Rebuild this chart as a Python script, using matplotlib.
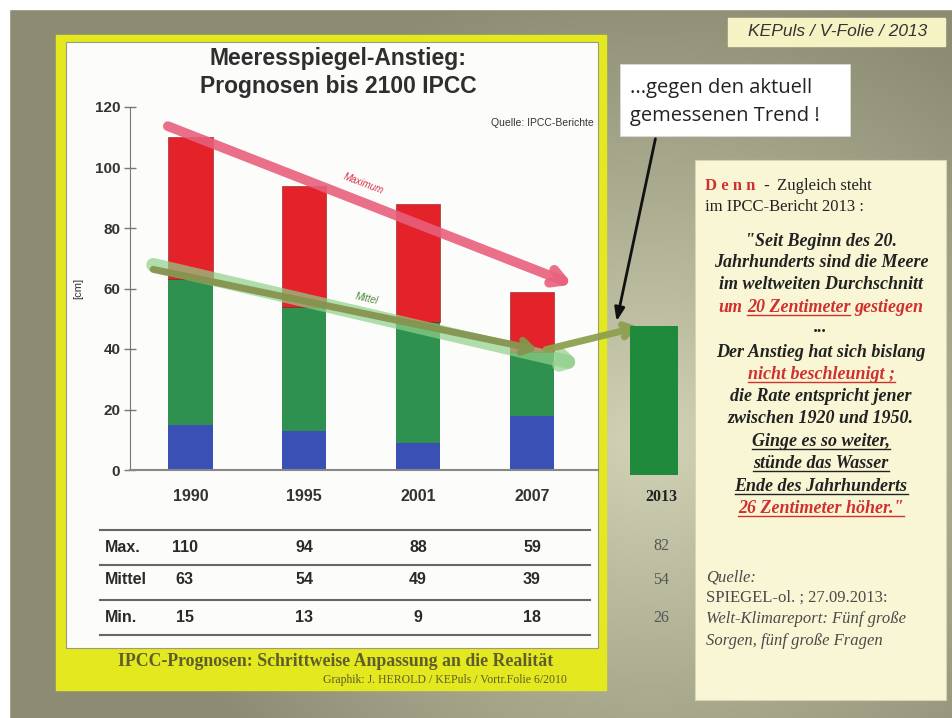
import numpy as np
import matplotlib
matplotlib.use("Agg")
import matplotlib.pyplot as plt
from matplotlib.patches import Rectangle
from matplotlib.transforms import blended_transform_factory

# data
years = ["1990", "1995", "2001", "2007"]
max_cm = [110, 94, 88, 59]
mittel_cm = [63, 54, 49, 39]
min_cm = [15, 13, 9, 18]
rows = ["Max.", "Mittel", "Min."]
y2013 = "2013"
vals2013 = [82, 54, 26]   # max, mittel, min

SANS = "Liberation Sans"
SERIF = "Liberation Serif"

fig = plt.figure(figsize=(9.52, 7.18), dpi=100)

# background canvas in pixel coords
bg = fig.add_axes([0, 0, 1, 1])
bg.set_xlim(0, 952)
bg.set_ylim(718, 0)
bg.axis("off")
yy, xx = np.mgrid[0:718, 0:952]
d = np.sqrt(((xx - 650) / 1.0) ** 2 + ((yy - 440) / 0.9) ** 2)
t = np.clip(d / 520, 0, 1) ** 0.9
light = np.array([0.83, 0.83, 0.72])
dark = np.array([0.55, 0.55, 0.45])
img = light * (1 - t[..., None]) + dark * t[..., None]
bg.imshow(img, extent=[0, 952, 718, 0], aspect="auto", zorder=0)
bg.add_patch(Rectangle((0, 0), 952, 9, color="white", zorder=1))
bg.add_patch(Rectangle((0, 0), 9, 718, color="white", zorder=1))
# yellow frame + white panel
bg.add_patch(Rectangle((56, 35), 550, 655, color="#e4e81f", zorder=2))
bg.add_patch(Rectangle((66, 42), 532, 606, facecolor="#fcfcfa",
                       edgecolor="#9a9a80", lw=0.8, zorder=3))

# main chart
ax = fig.add_axes([130 / 952, 1 - 470 / 718, 468 / 952, 363 / 718])
ax.patch.set_alpha(0)
x = np.arange(len(years))
w = 0.39
ax.bar(x, min_cm, w, color="#3b50b4", zorder=2)
ax.bar(x, np.subtract(mittel_cm, min_cm), w, bottom=min_cm, color="#2f9150", zorder=2)
ax.bar(x, np.subtract(max_cm, mittel_cm), w, bottom=mittel_cm, color="#e4222a",
       edgecolor="#8a1a1a", lw=0.4, zorder=2)
ax.set_xlim(-0.53, 3.58)
ax.set_ylim(0, 120)
ax.set_yticks(range(0, 121, 20))
ax.set_xticks(x)
ax.set_xticklabels(years, fontsize=11.5, fontweight="bold", family=SANS, color="#333333")
ax.tick_params(axis="x", length=0, pad=14)
ax.tick_params(axis="y", direction="inout", length=8, width=1, color="#777777",
               labelsize=11, pad=3, labelcolor="#333333")
for lbl in ax.get_yticklabels():
    lbl.set_family(SANS)
    lbl.set_fontweight("bold")
for s in ["top", "right"]:
    ax.spines[s].set_visible(False)
ax.spines["left"].set_color("#777777")
ax.spines["bottom"].set_color("#888888")
ax.spines["bottom"].set_linewidth(1.5)
ax.set_ylabel("[cm]", fontsize=8, family=SANS, labelpad=8, color="#333333")

# trend arrows
ax.annotate("", xy=(3.38, 61), xytext=(-0.22, 114),
            arrowprops=dict(arrowstyle="->,head_length=0.9,head_width=0.5", lw=7,
                            color="#e8607c", alpha=0.9), zorder=4)
ax.text(1.52, 94.5, "Maximum", rotation=-21, rotation_mode="anchor", ha="center",
        va="center", fontsize=7, style="italic", color="#d83048", family=SANS, zorder=5)
ax.annotate("", xy=(3.46, 34.5), xytext=(-0.35, 68),
            arrowprops=dict(arrowstyle="->,head_length=0.6,head_width=0.35", lw=10,
                            color="#8fd08a", alpha=0.7), zorder=4)
ax.text(1.55, 56.5, "Mittel", rotation=-13, rotation_mode="anchor", ha="center",
        va="center", fontsize=7, style="italic", color="#4f8a3a", family=SANS, zorder=5)
ax.annotate("", xy=(3.07, 39.6), xytext=(-0.35, 66.5),
            arrowprops=dict(arrowstyle="->,head_length=0.7,head_width=0.45", lw=5,
                            color="#86944e", alpha=0.95), zorder=5)
ax.annotate("", xy=(3.96, 47.5), xytext=(3.1, 39.6), annotation_clip=False,
            arrowprops=dict(arrowstyle="->,head_length=0.7,head_width=0.45", lw=5,
                            color="#8fa050", alpha=0.95, clip_on=False), zorder=5)
ax.text(0.99, 0.955, "Quelle: IPCC-Berichte", transform=ax.transAxes, ha="right",
        va="center", fontsize=7.5, family=SANS, color="#333333")

# 2013 bar
ax2 = fig.add_axes([630 / 952, 1 - 475 / 718, 48 / 952, 166 / 718])
ax2.patch.set_alpha(0)
ax2.bar([0], [vals2013[1]], 1.0, color="#1f8a3c")
ax2.set_xlim(-0.5, 0.5)
ax2.set_ylim(0, 60)
ax2.axis("off")

# overlay canvas in pixel coords
ov = fig.add_axes([0, 0, 1, 1], zorder=10)
ov.set_xlim(0, 952)
ov.set_ylim(718, 0)
ov.axis("off")
ov.patch.set_alpha(0)

ov.text(338, 58, "Meeresspiegel-Anstieg:", ha="center", va="center", fontsize=16.5,
        fontweight="bold", family=SANS, color="#2e2e2e")
ov.text(338, 86, "Prognosen bis 2100 IPCC", ha="center", va="center", fontsize=16.5,
        fontweight="bold", family=SANS, color="#2e2e2e")

# table
mix = blended_transform_factory(ax.transData, ov.transData)
for yl in [530, 565, 600, 635]:
    ov.plot([100, 590], [yl, yl], color="#666666", lw=1.5)
row_y = [547, 580, 617]
for ry, name, vals in zip(row_y, rows, [max_cm, mittel_cm, min_cm]):
    ov.text(105, ry, name, ha="left", va="center", fontsize=11.5, fontweight="bold",
            family=SANS, color="#2a2a2a")
    for i, v in enumerate(vals):
        xi = i - 0.05 if i == 0 else i
        ov.text(xi, ry, str(v), transform=mix, ha="center", va="center", fontsize=11.5,
                fontweight="bold", family=SANS, color="#2a2a2a")
ov.text(661, 497, y2013, ha="center", va="center", fontsize=11.5, fontweight="bold",
        family=SERIF, color="#222222")
for ry, v in zip([546, 580, 618], vals2013):
    ov.text(661, ry, str(v), ha="center", va="center", fontsize=11.5, family=SERIF,
            color="#555555")

ov.text(336, 661, "IPCC-Prognosen: Schrittweise Anpassung an die Realität", ha="center",
        va="center", fontsize=12.8, fontweight="bold", family=SERIF, color="#5e5e2c")
ov.text(445, 680, "Graphik: J. HEROLD / KEPuls / Vortr.Folie 6/2010", ha="center",
        va="center", fontsize=8.5, family=SERIF, color="#5e5e2c")

# KEPuls box
ov.add_patch(Rectangle((728, 18), 217, 28, color="#f5f3c4"))
ov.text(838, 32, "KEPuls / V-Folie / 2013", ha="center", va="center", fontsize=12.5,
        style="italic", family=SANS, color="#333333")

# speech box + arrow
ov.add_patch(Rectangle((620, 64), 230, 72, facecolor="white", edgecolor="#dddddd", lw=0.5))
ov.text(630, 88, "...gegen den aktuell", ha="left", va="center", fontsize=14.5,
        family="Open Sans", color="#222222")
ov.text(630, 116, "gemessenen Trend !", ha="left", va="center", fontsize=14.5,
        family="Open Sans", color="#222222")
ov.annotate("", xy=(616, 324), xytext=(656, 136),
            arrowprops=dict(arrowstyle="-|>,head_length=0.8,head_width=0.3", lw=2,
                            color="#111111"))

# right text box
ov.add_patch(Rectangle((695, 160), 251, 540, facecolor="#f8f6d4", edgecolor="#d8d6b0", lw=0.8))

renderer = fig.canvas.get_renderer()
RED = "#d03030"
BLK = "#222222"


def width_of(txt, **kw):
    tt = ov.text(0, 0, txt, **kw)
    wd = tt.get_window_extent(renderer).width
    tt.remove()
    return wd


def write_line(pieces, y, x0=None, cx=None, size=13, style="italic", weight="bold"):
    kw = dict(fontsize=size, family=SERIF)
    sp = width_of("x x", **kw, style=style, weight=weight) - width_of("xx", **kw, style=style, weight=weight)
    widths = []
    for p in pieces:
        st = p.get("style", style)
        wt = p.get("weight", weight)
        widths.append(width_of(p["t"], **kw, style=st, weight=wt))
    total = sum(widths) + sp * (len(pieces) - 1)
    xs = x0 if x0 is not None else cx - total / 2
    for p, wd in zip(pieces, widths):
        st = p.get("style", style)
        wt = p.get("weight", weight)
        ov.text(xs, y, p["t"], ha="left", va="baseline", color=p.get("c", BLK),
                style=st, weight=wt, **kw)
        if p.get("u"):
            ov.plot([xs, xs + wd], [y + 3, y + 3], color=p.get("c", BLK), lw=1)
        xs += wd + sp


write_line([dict(t="D e n n", c=RED, style="normal"),
            dict(t=" -", style="normal"),
            dict(t=" Zugleich steht", style="normal", weight="normal")],
           190, x0=705, size=12)
write_line([dict(t="im IPCC-Bericht 2013 :", style="normal", weight="normal")],
           211, x0=705, size=12)
cx = 821
quote = [
    (246, [dict(t="\"Seit Beginn des 20.")]),
    (267, [dict(t="Jahrhunderts sind die Meere")]),
    (289, [dict(t="im weltweiten Durchschnitt")]),
    (312, [dict(t="um", c=RED), dict(t="20 Zentimeter", c=RED, u=True), dict(t="gestiegen", c=RED)]),
    (332, [dict(t="...")]),
    (357, [dict(t="Der Anstieg hat sich bislang")]),
    (379, [dict(t="nicht beschleunigt ;", c=RED, u=True)]),
    (401, [dict(t="die Rate entspricht jener")]),
    (423, [dict(t="zwischen 1920 und 1950.")]),
    (446, [dict(t="Ginge es so weiter,", u=True)]),
    (468, [dict(t="stünde das Wasser", u=True)]),
    (491, [dict(t="Ende des Jahrhunderts", u=True)]),
    (513, [dict(t="26 Zentimeter höher.\"", c=RED, u=True)]),
]
for yq, pcs in quote:
    write_line(pcs, yq, cx=cx)

GRY = "#4a4a4a"
ov.text(706, 577, "Quelle:", ha="left", va="center", fontsize=12, style="italic",
        family=SERIF, color=GRY)
ov.text(706, 598, "SPIEGEL-ol. ; 27.09.2013:", ha="left", va="center", fontsize=12,
        family=SERIF, color=GRY)
ov.text(706, 619, "Welt-Klimareport: Fünf große", ha="left", va="center", fontsize=12,
        style="italic", family=SERIF, color=GRY)
ov.text(706, 641, "Sorgen, fünf große Fragen", ha="left", va="center", fontsize=12,
        style="italic", family=SERIF, color=GRY)

fig.savefig("out.png", dpi=100)
